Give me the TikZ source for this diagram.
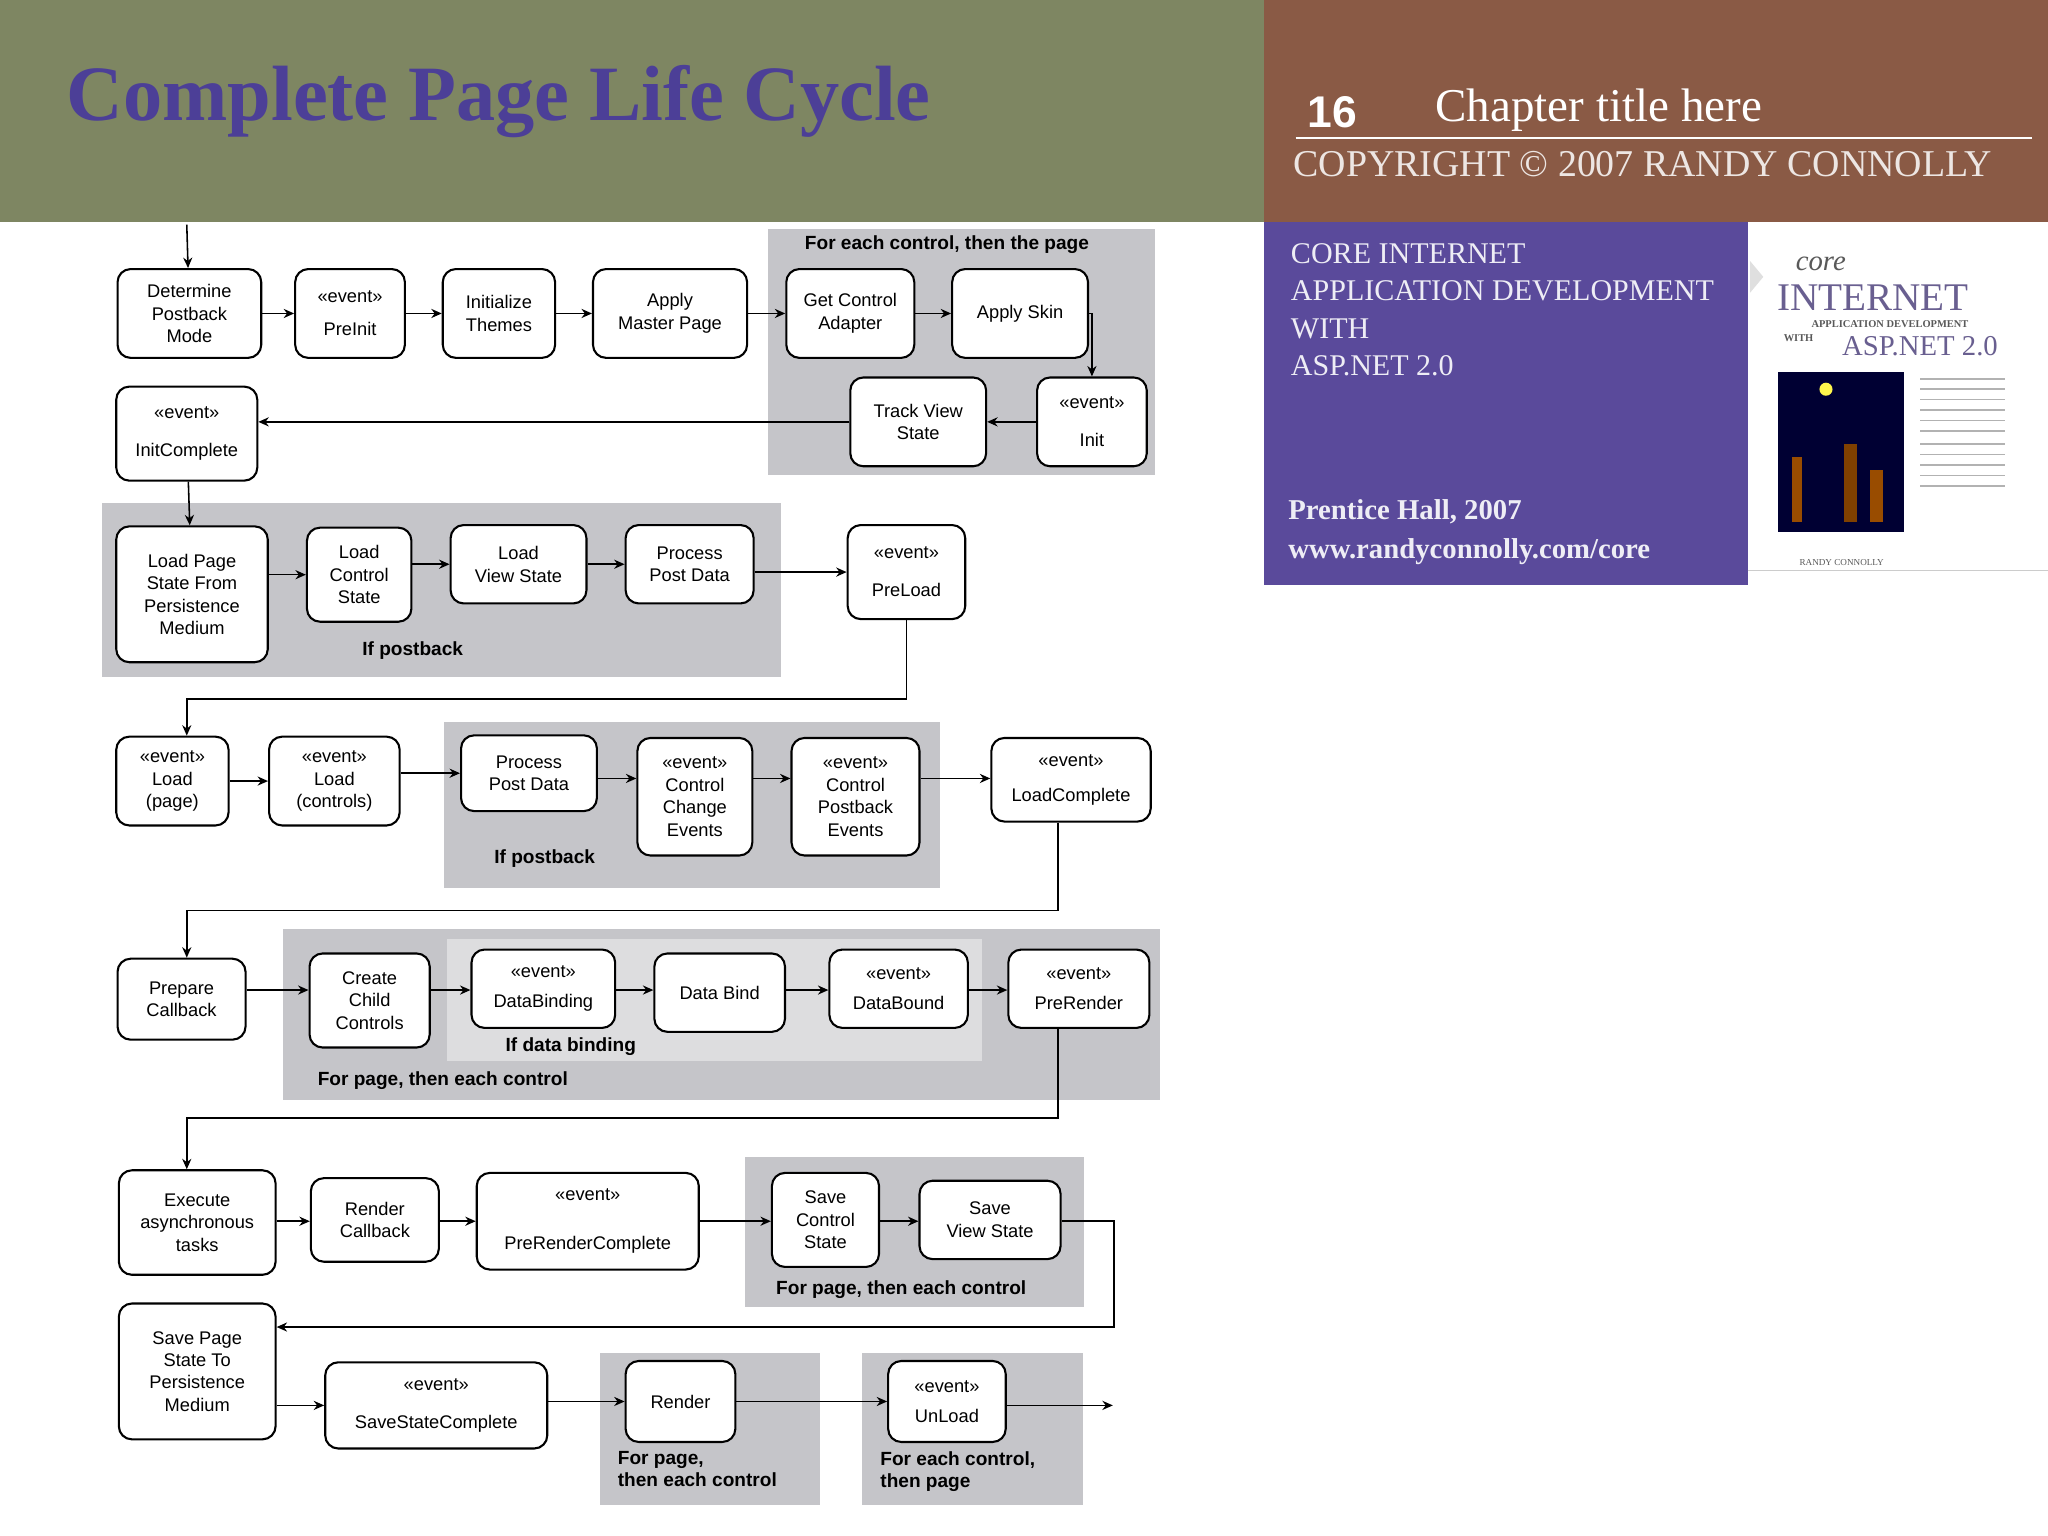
\documentclass[tikz,border=0pt]{standalone}
\usepackage{fontspec}
\setmainfont{Liberation Sans}
\newfontfamily\serifx{Liberation Serif}
\usetikzlibrary{arrows.meta}
\definecolor{olive}{HTML}{7E8662}
\definecolor{brownh}{HTML}{8A5A45}
\definecolor{purp}{HTML}{5A4A9B}
\definecolor{titlec}{HTML}{4C3F97}
\definecolor{grayb}{HTML}{C5C5C9}
\definecolor{grayl}{HTML}{DDDDDF}
\tikzset{
 box/.style={draw, line width=0.8pt, rounded corners=5pt, fill=white, align=center, inner sep=1pt,
   font=\fontsize{7}{8.6}\selectfont},
 arr/.style={-{Stealth[length=4pt,width=3.5pt]}, line width=0.6pt},
 glab/.style={font=\bfseries\fontsize{7.3}{8.6}\selectfont, align=left},
}
\begin{document}
\begin{tikzpicture}[x=0.5pt,y=-0.5pt]
\useasboundingbox (0,0) rectangle (1568,1176);
\fill[white] (0,0) rectangle (1568,1176);
% headers
\fill[olive] (0,0) rectangle (968,170);
\fill[brownh] (968,0) rectangle (1568,170);
\node[anchor=west, text=titlec, font=\serifx\bfseries\fontsize{30}{34}\selectfont] (title) at (44,78) {Complete Page Life Cycle};
\node[anchor=west, text=white, font=\bfseries\fontsize{17}{20}\selectfont] (num) at (994,86) {16};
\node[anchor=west, text=white, font=\serifx\fontsize{18}{20}\selectfont] (chap) at (1092,84) {Chapter title here};
\draw[white, line width=0.8pt] (992,106) -- (1556,106);
\node[anchor=west, text=white!85!brownh, font=\serifx\fontsize{14.5}{16}\selectfont, inner sep=0pt] (copy) at (990,126) {COPYRIGHT © 2007 RANDY CONNOLLY};
% purple box
\fill[purp] (968,170) rectangle (1338,448);
\node[anchor=north west, text=white!90!purp, font=\serifx\fontsize{11.5}{14.3}\selectfont, align=left, inner sep=0pt] (core) at (988,186)
 {CORE INTERNET\\APPLICATION DEVELOPMENT\\WITH\\ASP.NET 2.0};
\node[anchor=west, text=white!90!purp, font=\serifx\bfseries\fontsize{11}{13}\selectfont, inner sep=0pt] (ph) at (986,392) {Prentice Hall, 2007};
\node[anchor=west, text=white!90!purp, font=\serifx\bfseries\fontsize{11}{13}\selectfont, inner sep=0pt] (www) at (986,422) {www.randyconnolly.com/core};
% book cover
\fill[gray!25] (1340,200) -- (1350,212) -- (1340,224) -- cycle;
\node[text=gray!70!black, font=\serifx\itshape\fontsize{11}{12}\selectfont] (bcore) at (1394,202) {core};
\node[text=purp!60!gray, font=\serifx\fontsize{15}{16}\selectfont] (bint) at (1434,228) {INTERNET};
\node[text=gray!70!black, font=\serifx\bfseries\fontsize{4}{5}\selectfont] (bapp) at (1447,248) {APPLICATION DEVELOPMENT};
\node[text=gray!70!black, font=\serifx\bfseries\fontsize{4}{5}\selectfont] (bwith) at (1377,259) {WITH};
\node[text=purp!60!gray, font=\serifx\fontsize{11}{12}\selectfont] (basp) at (1470,265) {ASP.NET 2.0};
\fill[black!80!blue] (1361,285) rectangle (1458,407);
\fill[yellow!70!white] (1398,298) circle (5);
\fill[orange!60!black] (1372,350) rectangle (1380,400);
\fill[orange!50!black] (1412,340) rectangle (1422,400);
\fill[orange!60!black] (1432,360) rectangle (1442,400);
\foreach \yy in {290,298,306,314,322,330,340,348,356,364,372}{\draw[gray!60, line width=0.6pt] (1470,\yy) -- (1535,\yy);}
\node[text=gray!70!black, font=\serifx\fontsize{3.5}{4}\selectfont] (brc) at (1410,431) {RANDY CONNOLLY};
\draw[gray!40] (1338,437) -- (1568,437);
% gray regions
\fill[grayb] (588,175) rectangle (884,364);
\fill[grayb] (78,385) rectangle (598,518);
\fill[grayb] (340,553) rectangle (720,680);
\fill[grayb] (217,711) rectangle (888,842);
\fill[grayl] (342,719) rectangle (752,812);
\fill[grayb] (570,886) rectangle (830,1001);
\fill[grayb] (459,1036) rectangle (628,1152);
\fill[grayb] (660,1036) rectangle (829,1152);
\node[glab] (l1) at (725,187) {For each control, then the page};
\node[glab] (l2) at (316,498) {If postback};
\node[glab] (l3) at (417,657) {If postback};
\node[glab] (l4) at (437,801) {If data binding};
\node[glab] (l5) at (339,827) {For page, then each control};
\node[glab] (l6) at (690,987) {For page, then each control};
\node[glab, anchor=north west] (l7) at (466,1104) {For page,\\then each control};
\node[glab, anchor=north west] (l8) at (667,1104) {For each control,\\then page};
% row 1
\coordinate (start) at (143,172);
\node[box, minimum width=55pt, minimum height=34pt] (det) at (145,240) {Determine\\Postback\\Mode};
\node[box, minimum width=42pt, minimum height=34pt] (preinit) at (268,240) {«event»\\[4pt]PreInit};
\node[box, minimum width=43pt, minimum height=34pt] (themes) at (382,240) {Initialize\\Themes};
\node[box, minimum width=59pt, minimum height=34pt] (master) at (513,240) {Apply\\Master Page};
\node[box, minimum width=49pt, minimum height=34pt] (getctrl) at (651,240) {Get Control\\Adapter};
\node[box, minimum width=52pt, minimum height=34pt] (skin) at (781,240) {Apply Skin};
\node[box, minimum width=42pt, minimum height=34pt] (init) at (836,323) {«event»\\[6pt]Init};
\node[box, minimum width=52pt, minimum height=34pt] (track) at (703,323) {Track View\\State};
\node[box, minimum width=54pt, minimum height=36pt] (initc) at (143,332) {«event»\\[6pt]InitComplete};
% row 2
\node[box, minimum width=58pt, minimum height=52pt] (lpage) at (147,455) {Load Page\\State From\\Persistence\\Medium};
\node[box, minimum width=40pt, minimum height=36pt] (lctrl) at (275,440) {Load\\Control\\State};
\node[box, minimum width=52pt, minimum height=30pt] (lview) at (397,432) {Load\\View State};
\node[box, minimum width=49pt, minimum height=30pt] (ppd) at (528,432) {Process\\Post Data};
\node[box, minimum width=45pt, minimum height=36pt] (preload) at (694,438) {«event»\\[6pt]PreLoad};
% row 3
\node[box, minimum width=43pt, minimum height=34pt] (load) at (132,598) {«event»\\Load\\(page)};
\node[box, minimum width=50pt, minimum height=34pt] (loadc) at (256,598) {«event»\\Load\\(controls)};
\node[box, minimum width=52pt, minimum height=29pt] (ppd2) at (405,592) {Process\\Post Data};
\node[box, minimum width=44pt, minimum height=45pt] (chg) at (532,610) {«event»\\Control\\Change\\Events};
\node[box, minimum width=49pt, minimum height=45pt] (pb) at (655,610) {«event»\\Control\\Postback\\Events};
\node[box, minimum width=61pt, minimum height=32pt] (lcomp) at (820,597) {«event»\\[5pt]LoadComplete};
% row 4
\node[box, minimum width=49pt, minimum height=31pt] (prep) at (139,765) {Prepare\\Callback};
\node[box, minimum width=46pt, minimum height=36pt] (child) at (283,766) {Create\\Child\\Controls};
\node[box, minimum width=55pt, minimum height=30pt] (dbing) at (416,757) {«event»\\[3pt]DataBinding};
\node[box, minimum width=50pt, minimum height=30pt] (dbind) at (551,760) {Data Bind};
\node[box, minimum width=53pt, minimum height=30pt] (dbound) at (688,757) {«event»\\[3pt]DataBound};
\node[box, minimum width=54pt, minimum height=30pt] (prer) at (826,757) {«event»\\[3pt]PreRender};
% row 5
\node[box, minimum width=60pt, minimum height=40pt] (exec) at (151,936) {Execute\\asynchronous\\tasks};
\node[box, minimum width=49pt, minimum height=32pt] (rcb) at (287,934) {Render\\Callback};
\node[box, minimum width=85pt, minimum height=37pt] (prc) at (450,935) {«event»\\[10pt]PreRenderComplete};
\node[box, minimum width=41pt, minimum height=36pt] (sctrl) at (632,934) {Save\\Control\\State};
\node[box, minimum width=54pt, minimum height=30pt] (sview) at (758,934) {Save\\View State};
% row 6
\node[box, minimum width=60pt, minimum height=52pt] (spage) at (151,1050) {Save Page\\State To\\Persistence\\Medium};
\node[box, minimum width=85pt, minimum height=33pt] (ssc) at (334,1076) {«event»\\[6pt]SaveStateComplete};
\node[box, minimum width=42pt, minimum height=31pt] (render) at (521,1073) {Render};
\node[box, minimum width=45pt, minimum height=31pt] (unload) at (725,1073) {«event»\\[3pt]UnLoad};
\coordinate (endp) at (852,1076);
% connectors
\draw[arr] (start) -- (det);
\draw[arr] (det) -- (preinit);
\draw[arr] (preinit) -- (themes);
\draw[arr] (themes) -- (master);
\draw[arr] (master) -- (getctrl);
\draw[arr] (getctrl) -- (skin);
\draw[arr] (skin.east) -| (init.north);
\draw[arr] (init) -- (track);
\draw[arr] (track.west) -- (track.west -| initc.east);
\draw[arr] (initc) -- (lpage);
\draw[arr] (lpage.east |- lctrl) -- (lctrl);
\draw[arr] (lctrl.east |- lview) -- (lview);
\draw[arr] (lview) -- (ppd);
\draw[arr] (ppd.east |- preload) -- (preload);
\draw[arr] (preload.south) |- (143,535) -- (load.north -| 143,0);
\draw[arr] (load) -- (loadc);
\draw[arr] (loadc.east |- ppd2) -- (ppd2);
\draw[arr] (ppd2.east |- 0,596) -- (chg.west |- 0,596);
\draw[arr] (chg.east |- 0,596) -- (pb.west |- 0,596);
\draw[arr] (pb.east |- 0,596) -- (lcomp.west |- 0,596);
\draw[arr] (lcomp.south -| 810,0) |- (143,697) -- (prep.north -| 143,0);
\draw[arr] (prep.east |- 0,758) -- (child.west |- 0,758);
\draw[arr] (child.east |- 0,758) -- (dbing.west |- 0,758);
\draw[arr] (dbing.east |- 0,758) -- (dbind.west |- 0,758);
\draw[arr] (dbind.east |- 0,758) -- (dbound.west |- 0,758);
\draw[arr] (dbound.east |- 0,758) -- (prer.west |- 0,758);
\draw[arr] (prer.south -| 810,0) |- (143,856) -- (exec.north -| 143,0);
\draw[arr] (exec.east |- 0,935) -- (rcb.west |- 0,935);
\draw[arr] (rcb.east |- 0,935) -- (prc.west |- 0,935);
\draw[arr] (prc.east |- 0,935) -- (sctrl.west |- 0,935);
\draw[arr] (sctrl.east |- 0,935) -- (sview.west |- 0,935);
\draw[arr] (sview.east |- 0,935) -- (853,935) |- (spage.east |- 0,1016);
\draw[arr] (spage.east |- ssc) -- (ssc);
\draw[arr] (ssc.east |- render) -- (render);
\draw[arr] (render) -- (unload);
\draw[arr] (unload.east |- endp) -- (endp);
\end{tikzpicture}
\end{document}
